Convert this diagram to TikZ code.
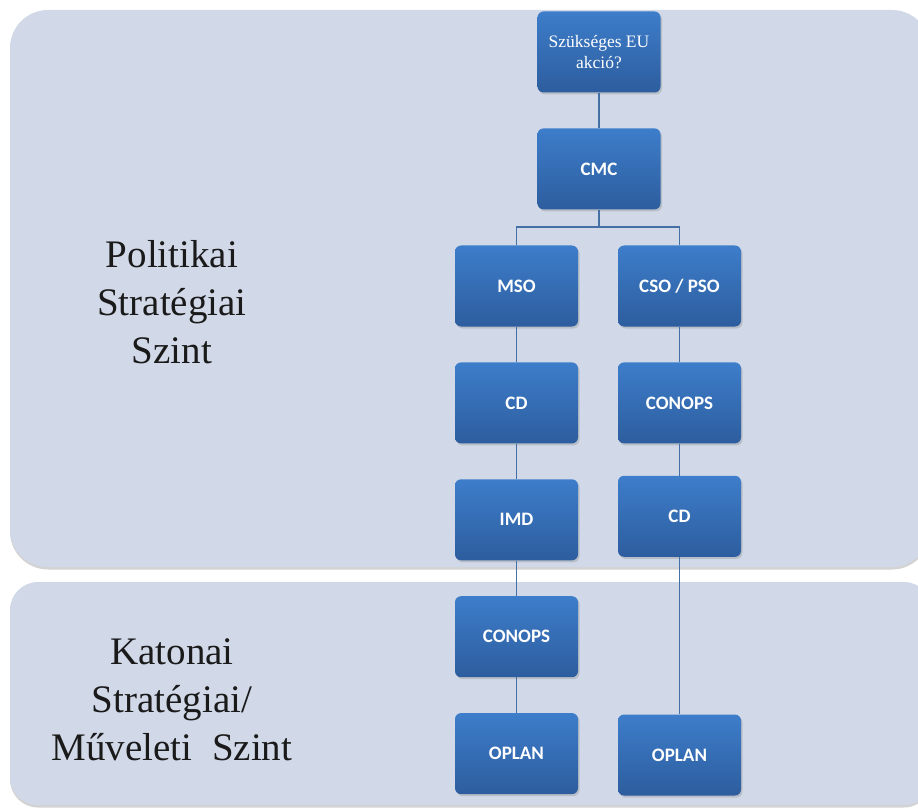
\documentclass[tikz,border=0pt]{standalone}
\usepackage{fontspec}
\setmainfont{Liberation Serif}
\newfontfamily\boxfont{Carlito}
\usepackage{xcolor}
\usetikzlibrary{positioning,shadows}

\definecolor{panelfill}{HTML}{D1D9E8}
\definecolor{boxtop}{HTML}{3D7DCA}
\definecolor{boxbottom}{HTML}{2D5D9E}
\definecolor{linkblue}{HTML}{4570A6}
\definecolor{leveltxt}{HTML}{1A1A1A}

\begin{document}
\begin{tikzpicture}[x=1pt,y=1pt,
  node distance=35.5pt,
  panel/.style={fill=panelfill,drop shadow={opacity=0.35,shadow xshift=0pt,shadow yshift=-2.5pt}},
  box/.style={rounded corners=6pt,align=center,minimum width=123pt,minimum height=81pt,
    top color=boxtop,bottom color=boxbottom,text=white,
    font=\boxfont\bfseries\fontsize{19}{22}\selectfont,
    drop shadow={opacity=0.3,shadow xshift=1.5pt,shadow yshift=-2pt}},
  topbox/.style={box,font=\rmfamily\fontsize{17.5}{21}\selectfont},
  conn/.style={draw=linkblue,line width=1.6pt},
  leveltext/.style={align=center,text=leveltxt,font=\fontsize{39}{48}\selectfont}
]
\useasboundingbox (0,0) rectangle (918,-810);
% the two levels
\fill[panel,rounded corners=38pt] (10,-10) rectangle (930,-567);
\fill[panel,rounded corners=28pt] (10,-582) rectangle (932,-805);
\node[leveltext] (politikai) at (172,-302) {Politikai\\Stratégiai\\Szint};
\node[leveltext] (katonai) at (172,-700) {Katonai\\Stratégiai/\\Műveleti~~Szint};
% boxes
\node[topbox] (akcio) at (599,-52) {Szükséges EU\\akció?};
\node[box,below=of akcio] (cmc) {CMC};
\node[box] (mso) at (516.5,-286) {MSO};
\node[box,below=of mso] (cdleft) {CD};
\node[box,below=of cdleft] (imd) {IMD};
\node[box,below=of imd] (conopsleft) {CONOPS};
\node[box,below=of conopsleft] (oplanleft) {OPLAN};
\node[box] (cso) at (679.5,-286) {CSO / PSO};
\node[box,below=of cso] (conopsright) {CONOPS};
\node[box,below=32pt of conopsright] (cdright) {CD};
\node[box] (oplanright) at (679.5,-755) {OPLAN};
\coordinate (split) at (599,-227);
% connectors
\draw[conn] (akcio) -- (cmc);
\draw[conn] (cmc) -- (split);
\draw[conn] (mso.north) |- (split) -| (cso.north);
\draw[conn] (mso) -- (cdleft);
\draw[conn] (cdleft) -- (imd);
\draw[conn] (imd) -- (conopsleft);
\draw[conn] (conopsleft) -- (oplanleft);
\draw[conn] (cso) -- (conopsright);
\draw[conn] (conopsright) -- (cdright);
\draw[conn] (cdright) -- (oplanright);
\end{tikzpicture}
\end{document}
